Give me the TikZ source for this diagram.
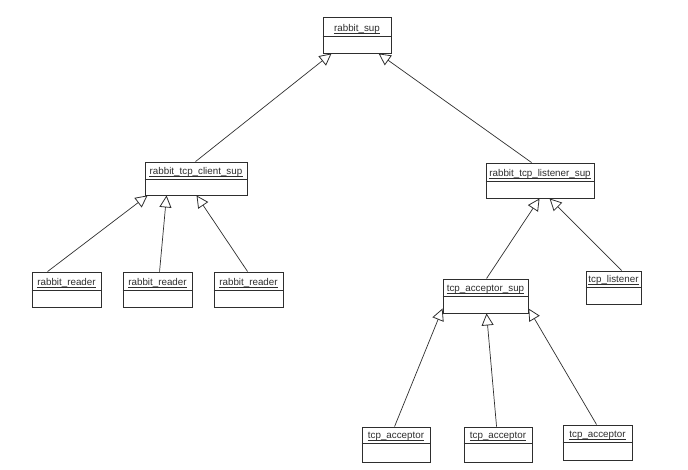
\documentclass[tikz,border=0pt]{standalone}
\usepackage{fontspec}
\setmainfont{Liberation Sans}
\usetikzlibrary{arrows.meta,calc}
\definecolor{ink}{HTML}{2E2E2E}
\tikzset{
  cls/.style={draw=ink, line width=0.9pt, rectangle, inner sep=0pt, fill=white},
  clsline/.style={draw=ink, line width=0.9pt},
  uline/.style={draw=ink, line width=0.6pt},
  lbl/.style={inner sep=0pt, text=ink, font=\fontsize{9.8}{11}\selectfont},
  gen/.style={draw=ink, line width=0.7pt, -{Triangle[open, length=12pt, width=12pt, line width=0.8pt]}}
}
\newcommand\umlcls[7]{%
  \node[cls, minimum width=#4pt, minimum height=#5pt] (#1) at (#2,#3) {};
  \draw[clsline] ($(#1.north west)+(0,#6)$) -- ($(#1.north east)+(0,#6)$);
  \node[lbl, anchor=base] (#1l) at ($(#1.north)+(0,#6-5)$) {#7};
  \draw[uline] ($(#1l.base west)+(0,1.9)$) -- ($(#1l.base east)+(0,1.9)$);
}
\begin{document}
\begin{tikzpicture}[x=1pt, y=-1pt]
\useasboundingbox (0,0) rectangle (688,470);
\umlcls{sup}{357}{35}{68}{36}{20}{rabbit\_sup}
\umlcls{client}{196}{178.5}{102}{33}{18}{rabbit\_tcp\_client\_sup}
\umlcls{rr1}{66.5}{289.5}{69}{35}{19}{rabbit\_reader}
\umlcls{rr2}{157.5}{289.5}{69}{35}{19}{rabbit\_reader}
\umlcls{rr3}{248.5}{289.5}{69}{35}{19}{rabbit\_reader}
\umlcls{listener}{540}{180.5}{108}{35}{19}{rabbit\_tcp\_listener\_sup}
\umlcls{accsup}{485.5}{296}{85}{34}{18}{tcp\_acceptor\_sup}
\umlcls{tcpl}{613.5}{287.5}{55}{33}{17}{tcp\_listener}
\umlcls{acc1}{396}{444.5}{68}{35}{17}{tcp\_acceptor}
\umlcls{acc2}{498}{444.5}{68}{35}{17}{tcp\_acceptor}
\umlcls{acc3}{597.5}{442.5}{69}{35}{18}{tcp\_acceptor}

\draw[gen] ($(client.north west)+(51,0)$) -- ($(sup.south west)+(9,0)$);
\draw[gen] ($(listener.north west)+(46,0)$) -- ($(sup.south west)+(56,0)$);
\draw[gen] ($(rr1.north west)+(16,0)$) -- ($(client.south west)+(3,0)$);
\draw[gen] ($(rr2.north west)+(37,0)$) -- ($(client.south west)+(22,0)$);
\draw[gen] ($(rr3.north west)+(34,0)$) -- ($(client.south west)+(52,0)$);
\draw[gen] ($(accsup.north west)+(44,0)$) -- ($(listener.south west)+(54,0)$);
\draw[gen] ($(tcpl.north west)+(36,0)$) -- ($(listener.south west)+(64,0)$);
\draw[gen] ($(acc1.north west)+(33,0)$) -- ($(accsup.south west)+(0,-5)$);
\draw[gen] ($(acc2.north west)+(33,0)$) -- ($(accsup.south west)+(44,0)$);
\draw[gen] ($(acc3.north west)+(34,0)$) -- ($(accsup.south east)+(0,-5)$);
\end{tikzpicture}
\end{document}
